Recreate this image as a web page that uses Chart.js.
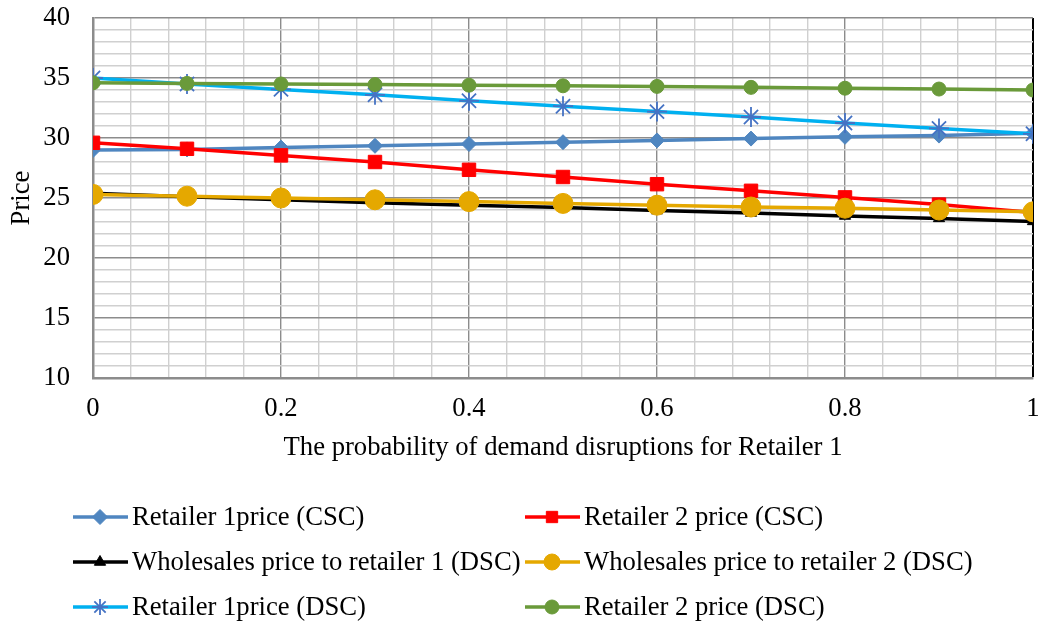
<!DOCTYPE html>
<html>
<head>
<meta charset="utf-8">
<script src="https://cdn.jsdelivr.net/npm/chart.js@4/dist/chart.umd.min.js"></script>
<style>
  body { margin: 0; background: #fff; }
  #wrap { width: 1038px; height: 625px; }
</style>
</head>
<body>
<div id="wrap"><canvas id="priceChart" width="1038" height="625"></canvas></div>
<script>
// x values: probability of demand disruptions for retailer 1
const probs = [0, 0.1, 0.2, 0.3, 0.4, 0.5, 0.6, 0.7, 0.8, 0.9, 1];

// series
const r1PriceCSC = [29.0, 29.05, 29.2, 29.35, 29.5, 29.65, 29.8, 29.95, 30.1, 30.2, 30.4];
const r2PriceCSC = [29.6, 29.1, 28.55, 28.0, 27.35, 26.75, 26.15, 25.6, 25.05, 24.45, 23.8];
const wholesaleR1 = [25.4, 25.1, 24.85, 24.6, 24.4, 24.2, 23.95, 23.75, 23.5, 23.3, 23.05];
const wholesaleR2 = [25.3, 25.15, 25.0, 24.85, 24.7, 24.55, 24.4, 24.25, 24.15, 24.0, 23.85];
const r1PriceDSC = [35.0, 34.5, 34.05, 33.6, 33.1, 32.65, 32.2, 31.75, 31.25, 30.8, 30.35];
const r2PriceDSC = [34.6, 34.55, 34.5, 34.45, 34.4, 34.35, 34.3, 34.22, 34.15, 34.08, 34.0];

// labelled ticks
const xTickLabels = [0, 0.2, 0.4, 0.6, 0.8, 1];
const yTickLabels = [10, 15, 20, 25, 30, 35, 40];

const FONT = '"Liberation Serif", "Times New Roman", serif';
const FONT_SIZE = 26.67;

function toPoints(values) {
    return values.map((v, i) => ({ x: probs[i], y: v }));
}

function isLabelled(list, v) {
    return list.some(t => Math.abs(t - v) < 1e-6);
}

const seriesDefs = [
    { label: 'Retailer 1price (CSC)', data: r1PriceCSC, color: '#4F86C0', style: 'rectRot', radius: 7.5, pointColor: '#4F86C0' },
    { label: 'Retailer 2 price (CSC)', data: r2PriceCSC, color: '#FF0000', style: 'rect', radius: 9.5, pointColor: '#FF0000' },
    { label: 'Wholesales price to retailer 1 (DSC)', data: wholesaleR1, color: '#000000', style: 'triangle', radius: 6.5, pointColor: '#000000' },
    { label: 'Wholesales price to retailer 2 (DSC)', data: wholesaleR2, color: '#E5A800', style: 'circle', radius: 10, pointColor: '#E5A800' },
    { label: 'Retailer 1price (DSC)', data: r1PriceDSC, color: '#00B0F0', style: 'star', radius: 10, pointColor: '#4472C4' },
    { label: 'Retailer 2 price (DSC)', data: r2PriceDSC, color: '#6A9A3A', style: 'circle', radius: 7, pointColor: '#6A9A3A' }
];

const datasets = seriesDefs.map((s, i) => ({
    label: s.label,
    data: toPoints(s.data),
    borderColor: s.color,
    backgroundColor: s.pointColor,
    borderWidth: 3.5,
    pointStyle: s.style,
    pointRadius: s.radius,
    pointHoverRadius: s.radius,
    pointBackgroundColor: s.pointColor,
    pointBorderColor: s.pointColor,
    pointBorderWidth: s.style === 'star' ? 1.8 : 1,
    tension: 0,
    order: seriesDefs.length - i   // later series drawn on top, like the original
}));

// legend in two columns, three rows under the axis title
const legendPlugin = {
    id: 'gridLegend',
    afterDraw(chart) {
        const ctx = chart.ctx;
        const cols = [73, 525];
        const rows = [517, 562, 607];
        ctx.save();
        ctx.font = FONT_SIZE + 'px ' + FONT;
        ctx.textBaseline = 'middle';
        seriesDefs.forEach((s, i) => {
            const x0 = cols[i % 2];
            const y = rows[Math.floor(i / 2)];
            ctx.strokeStyle = s.color;
            ctx.lineWidth = 3.5;
            ctx.beginPath();
            ctx.moveTo(x0, y);
            ctx.lineTo(x0 + 55, y);
            ctx.stroke();
            ctx.fillStyle = s.pointColor;
            ctx.strokeStyle = s.pointColor;
            ctx.lineWidth = s.style === 'star' ? 1.8 : 1;
            Chart.helpers.drawPoint(ctx, {
                pointStyle: s.style,
                radius: Math.min(s.radius, 8),
                rotation: 0,
                borderWidth: ctx.lineWidth
            }, x0 + 27, y);
            ctx.fillStyle = '#000';
            ctx.fillText(s.label, x0 + 59, y + 1);
        });
        ctx.restore();
    }
};

new Chart(document.getElementById('priceChart').getContext('2d'), {
    type: 'line',
    data: { datasets: datasets },
    options: {
        responsive: false,
        animation: false,
        layout: { autoPadding: false, padding: { left: 0, top: 18, right: 5, bottom: 161 } },
        plugins: {
            legend: { display: false },
            tooltip: { enabled: false }
        },
        scales: {
            x: {
                type: 'linear',
                min: 0,
                max: 1,
                afterFit: scale => {
                    scale.height = 86;
                    scale.paddingLeft = 0;
                    scale.paddingRight = 0;
                },
                ticks: {
                    stepSize: 0.04,
                    autoSkip: false,
                    maxRotation: 0,
                    padding: 15,
                    color: '#000',
                    font: { family: FONT, size: FONT_SIZE },
                    callback: v => isLabelled(xTickLabels, v) ? String(+v.toFixed(1)) : ''
                },
                grid: {
                    drawTicks: false,
                    color: c => {
                        const v = c.tick.value;
                        if (Math.abs(v - 1) < 1e-6) return '#000';
                        return isLabelled(xTickLabels, v) ? '#8C8C8C' : '#D0D0D0';
                    },
                    lineWidth: c => Math.abs(c.tick.value - 1) < 1e-6 ? 2 : 1.4
                },
                border: { display: true, color: '#8C8C8C', width: 2.5 },
                title: {
                    display: true,
                    text: 'The probability of demand disruptions for Retailer 1',
                    color: '#000',
                    font: { family: FONT, size: FONT_SIZE },
                    padding: 0
                }
            },
            y: {
                min: 10,
                max: 40,
                afterFit: scale => {
                    scale.width = 93;
                    scale.paddingTop = 0;
                    scale.paddingBottom = 0;
                },
                ticks: {
                    stepSize: 1,
                    autoSkip: false,
                    padding: 23,
                    color: '#000',
                    font: { family: FONT, size: FONT_SIZE },
                    callback: v => isLabelled(yTickLabels, v) ? String(v) : ''
                },
                grid: {
                    drawTicks: false,
                    color: c => isLabelled(yTickLabels, c.tick.value) ? '#8C8C8C' : '#D0D0D0',
                    lineWidth: 1.4
                },
                border: { display: true, color: '#8C8C8C', width: 2.5 },
                title: {
                    display: true,
                    text: 'Price',
                    color: '#000',
                    font: { family: FONT, size: FONT_SIZE },
                    padding: { top: 6, bottom: 0 }
                }
            }
        }
    },
    plugins: [legendPlugin]
});
</script>
</body>
</html>
